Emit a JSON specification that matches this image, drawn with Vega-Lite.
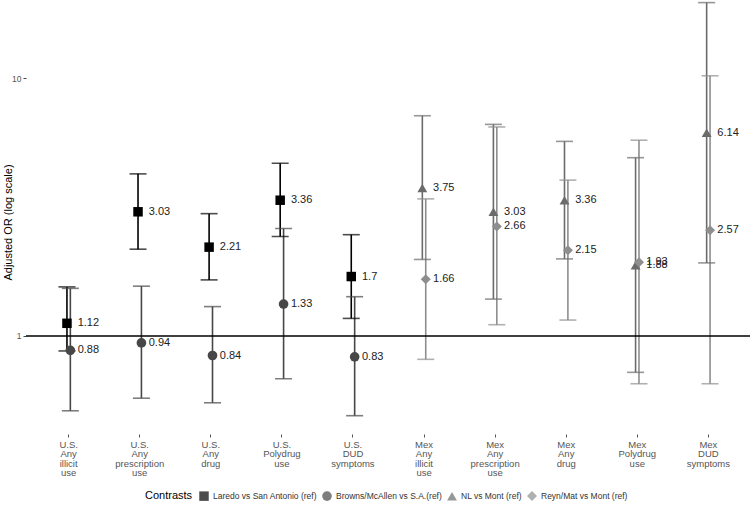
{
  "$schema": "https://vega.github.io/schema/vega-lite/v6.json",
  "width": 725,
  "height": 434,
  "autosize": "none",
  "padding": {"left": 26, "top": 0, "right": 0, "bottom": 84},
  "config": {"font": "Liberation Sans", "view": {"stroke": null}},
  "data": {"values": [
    {"outcome": "U.S.|Any|illicit|use", "contrast": "Laredo vs San Antonio (ref)", "side": "L", "or": 1.12, "lo": 0.875, "hi": 1.55},
    {"outcome": "U.S.|Any|illicit|use", "contrast": "Browns/McAllen vs S.A.(ref)", "side": "R", "or": 0.88, "lo": 0.513, "hi": 1.53},
    {"outcome": "U.S.|Any|prescription|use", "contrast": "Laredo vs San Antonio (ref)", "side": "L", "or": 3.03, "lo": 2.17, "hi": 4.25},
    {"outcome": "U.S.|Any|prescription|use", "contrast": "Browns/McAllen vs S.A.(ref)", "side": "R", "or": 0.94, "lo": 0.574, "hi": 1.56},
    {"outcome": "U.S.|Any|drug", "contrast": "Laredo vs San Antonio (ref)", "side": "L", "or": 2.21, "lo": 1.65, "hi": 2.98},
    {"outcome": "U.S.|Any|drug", "contrast": "Browns/McAllen vs S.A.(ref)", "side": "R", "or": 0.84, "lo": 0.551, "hi": 1.30},
    {"outcome": "U.S.|Polydrug|use", "contrast": "Laredo vs San Antonio (ref)", "side": "L", "or": 3.36, "lo": 2.43, "hi": 4.67},
    {"outcome": "U.S.|Polydrug|use", "contrast": "Browns/McAllen vs S.A.(ref)", "side": "R", "or": 1.33, "lo": 0.683, "hi": 2.61},
    {"outcome": "U.S.|DUD|symptoms", "contrast": "Laredo vs San Antonio (ref)", "side": "L", "or": 1.7, "lo": 1.17, "hi": 2.47},
    {"outcome": "U.S.|DUD|symptoms", "contrast": "Browns/McAllen vs S.A.(ref)", "side": "R", "or": 0.83, "lo": 0.491, "hi": 1.42},
    {"outcome": "Mex|Any|illicit|use", "contrast": "NL vs Mont (ref)", "side": "L", "or": 3.75, "lo": 1.98, "hi": 7.14},
    {"outcome": "Mex|Any|illicit|use", "contrast": "Reyn/Mat vs Mont (ref)", "side": "R", "or": 1.66, "lo": 0.812, "hi": 3.40},
    {"outcome": "Mex|Any|prescription|use", "contrast": "NL vs Mont (ref)", "side": "L", "or": 3.03, "lo": 1.39, "hi": 6.61},
    {"outcome": "Mex|Any|prescription|use", "contrast": "Reyn/Mat vs Mont (ref)", "side": "R", "or": 2.66, "lo": 1.106, "hi": 6.46},
    {"outcome": "Mex|Any|drug", "contrast": "NL vs Mont (ref)", "side": "L", "or": 3.36, "lo": 1.99, "hi": 5.68},
    {"outcome": "Mex|Any|drug", "contrast": "Reyn/Mat vs Mont (ref)", "side": "R", "or": 2.15, "lo": 1.153, "hi": 4.02},
    {"outcome": "Mex|Polydrug|use", "contrast": "NL vs Mont (ref)", "side": "L", "or": 1.88, "lo": 0.723, "hi": 4.91},
    {"outcome": "Mex|Polydrug|use", "contrast": "Reyn/Mat vs Mont (ref)", "side": "R", "or": 1.93, "lo": 0.653, "hi": 5.74},
    {"outcome": "Mex|DUD|symptoms", "contrast": "NL vs Mont (ref)", "side": "L", "or": 6.14, "lo": 1.92, "hi": 19.6},
    {"outcome": "Mex|DUD|symptoms", "contrast": "Reyn/Mat vs Mont (ref)", "side": "R", "or": 2.57, "lo": 0.653, "hi": 10.2}
  ]},
  "layer": [
    {
      "mark": {"type": "rule", "strokeWidth": 1.6},
      "encoding": {
        "x": {"field": "outcome", "type": "nominal",
          "scale": {"type": "band", "paddingInner": 1, "paddingOuter": 0.6, "domain": ["U.S.|Any|illicit|use", "U.S.|Any|prescription|use", "U.S.|Any|drug", "U.S.|Polydrug|use", "U.S.|DUD|symptoms", "Mex|Any|illicit|use", "Mex|Any|prescription|use", "Mex|Any|drug", "Mex|Polydrug|use", "Mex|DUD|symptoms"]},
          "axis": {"title": null, "labelExpr": "split(datum.value, '|')", "labelAngle": 0, "labelFontSize": 9.5, "labelLineHeight": 9.5, "labelColor": "#555555", "labelBaseline": "top", "labelPadding": 2, "tickSize": 3, "tickColor": "#555555", "domain": false, "grid": false, "labelOverlap": false}},
        "xOffset": {"field": "side", "type": "nominal", "scale": {"type": "point", "range": [-1.7, 1.7], "padding": 0}},
        "y": {"field": "lo", "type": "quantitative",
          "scale": {"type": "log", "domain": [0.417, 20.06], "nice": false, "zero": false},
          "axis": {"title": "Adjusted OR (log scale)", "values": [1, 10], "format": "~g", "grid": false, "domain": false, "tickSize": 3, "tickColor": "#444444", "labelFontSize": 8.5, "labelColor": "#555555", "labelPadding": 2, "titleFontSize": 11, "titleFontWeight": "normal", "titleColor": "#000000", "titleX": -18, "titleY": 222, "titleAngle": -90, "titleAlign": "center", "titleBaseline": "middle"}},
        "y2": {"field": "hi"},
        "color": {"field": "contrast", "type": "nominal",
          "scale": {"domain": ["Laredo vs San Antonio (ref)", "Browns/McAllen vs S.A.(ref)", "NL vs Mont (ref)", "Reyn/Mat vs Mont (ref)"], "range": ["#000000", "#474747", "#6b6b6b", "#8e8e8e"]}}
      }
    },
    {
      "mark": {"type": "tick", "size": 17, "thickness": 1.6},
      "encoding": {
        "x": {"field": "outcome", "type": "nominal"},
        "xOffset": {"field": "side", "type": "nominal"},
        "y": {"field": "lo", "type": "quantitative"},
        "color": {"field": "contrast", "type": "nominal"}
      }
    },
    {
      "mark": {"type": "tick", "size": 17, "thickness": 1.6},
      "encoding": {
        "x": {"field": "outcome", "type": "nominal"},
        "xOffset": {"field": "side", "type": "nominal"},
        "y": {"field": "hi", "type": "quantitative"},
        "color": {"field": "contrast", "type": "nominal"}
      }
    },
    {
      "data": {"values": [{"ref": 1}]},
      "mark": {"type": "rule", "color": "#000000", "strokeWidth": 1.3},
      "encoding": {"y": {"field": "ref", "type": "quantitative"}}
    },
    {
      "mark": {"type": "point", "filled": true, "opacity": 1},
      "encoding": {
        "x": {"field": "outcome", "type": "nominal"},
        "xOffset": {"field": "side", "type": "nominal"},
        "y": {"field": "or", "type": "quantitative"},
        "color": {"field": "contrast", "type": "nominal",
          "legend": {"title": "Contrasts", "orient": "none", "legendX": 119, "legendY": 491, "direction": "horizontal", "titleOrient": "left", "titleFontSize": 11, "titleFontWeight": "normal", "titleColor": "#000000", "titlePadding": 6, "labelFontSize": 8.5, "labelColor": "#333333", "symbolSize": 100, "labelOffset": 4, "columnPadding": 5, "symbolStrokeWidth": 0}},
        "shape": {"field": "contrast", "type": "nominal",
          "scale": {"domain": ["Laredo vs San Antonio (ref)", "Browns/McAllen vs S.A.(ref)", "NL vs Mont (ref)", "Reyn/Mat vs Mont (ref)"], "range": ["square", "circle", "triangle-up", "diamond"]},
          "legend": {"title": "Contrasts", "orient": "none", "legendX": 119, "legendY": 491, "direction": "horizontal", "titleOrient": "left", "titleFontSize": 11, "titleFontWeight": "normal", "titleColor": "#000000", "titlePadding": 6, "labelFontSize": 8.5, "labelColor": "#333333", "symbolSize": 100, "labelOffset": 4, "columnPadding": 5, "symbolStrokeWidth": 0}},
        "size": {"field": "contrast", "type": "nominal", "legend": null,
          "scale": {"domain": ["Laredo vs San Antonio (ref)", "Browns/McAllen vs S.A.(ref)", "NL vs Mont (ref)", "Reyn/Mat vs Mont (ref)"], "range": [90, 100, 110, 70]}}
      }
    },
    {
      "mark": {"type": "text", "align": "left", "baseline": "middle", "dx": 9, "fontSize": 11, "color": "#222222"},
      "encoding": {
        "x": {"field": "outcome", "type": "nominal"},
        "y": {"field": "or", "type": "quantitative"},
        "text": {"field": "or", "type": "quantitative", "format": "~g"}
      }
    }
  ]
}
